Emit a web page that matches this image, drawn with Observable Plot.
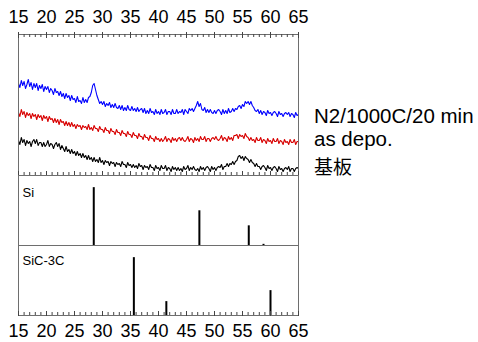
<!DOCTYPE html>
<html><head><meta charset="utf-8">
<script src="https://cdn.jsdelivr.net/npm/d3@7"></script>
<script src="https://cdn.jsdelivr.net/npm/@observablehq/plot@0.6"></script>
<style>
body{margin:0;background:#fff;}
#wrap{position:relative;width:478px;height:342px;overflow:hidden;font-family:"Liberation Sans",Arial,sans-serif;color:#000;}
#wrap svg{position:absolute;left:0;}
.leg{position:absolute;left:314px;font-size:20.5px;line-height:1;white-space:nowrap;color:#000;}
.cjk{font-family:"Noto Sans CJK JP",sans-serif;font-size:19px;}
</style></head><body>
<div id="wrap"></div>
<script>
// 2θ grid of the measured traces: start 15°, step 0.25°
const angleStart = 15, angleStep = 0.25;
const blueTrace = [
92,88,95,90, 94,87,91,96, 89,93,86,92, 88,92,85,90, 87,91,84,89,
86,89,83,87, 85,81,87,83, 84,80,84,79, 82,77,82,78, 80,75,80,76,
77,73,79,74, 75,72,78,73, 76,73,78,79, 83,90,92,86, 80,76,72,74,
71,74,69,72, 70,73,68,71, 68,72,68,67, 70,66,70,65, 68,65,70,66,
65,69,65,67, 64,68,64,66, 67,63,67,62, 65,62,67,63, 64,61,66,62,
64,61,66,62, 63,66,61,64, 64,61,66,62, 62,66,62,64, 63,66,61,66,
64,62,67,65, 67,64,67,70, 74,69,72,66, 65,68,63,66, 63,66,63,62,
65,62,65,66, 64,61,66,62, 65,62,67,63, 64,67,64,67, 66,69,70,67,
71,69,74,72, 74,71,74,70, 68,65,64,66, 62,65,61,64, 63,60,65,62,
63,60,63,64, 62,59,64,61, 62,59,62,63, 61,63,59,62, 61,58,63,60,
61];
const redTrace = [
63,59,66,61, 64,58,63,60, 62,57,62,59, 61,56,61,58, 60,55,60,57,
59,54,59,56, 57,53,57,53, 56,51,56,53, 54,50,54,50, 53,49,53,49,
51,47,51,49, 50,46,50,48, 49,46,51,46, 48,45,50,47, 47,44,49,46,
46,43,48,45, 45,42,47,44, 44,41,46,43, 43,40,45,42, 42,39,44,41,
41,38,43,40, 40,37,42,39, 39,36,41,38, 38,35,40,37, 37,34,39,36,
37,34,37,34, 36,39,34,37, 36,33,38,35, 37,34,37,38, 35,38,35,34,
36,39,34,37, 36,33,38,35, 37,34,39,36, 36,39,34,37, 37,34,37,38,
36,39,36,35, 37,40,35,38, 37,34,39,36, 38,35,40,40, 41,37,41,39,
40,37,42,39, 38,35,38,35, 36,33,38,35, 35,38,33,36, 35,32,37,34,
35,32,37,34, 34,37,32,35, 34,31,36,33, 34,31,36,33, 33,36,31,34,
34];
const blackTrace = [
35,31,38,33, 36,30,35,32, 34,29,34,36, 32,36,30,33, 33,29,33,29,
31,35,29,32, 31,27,31,33, 29,32,26,30, 27,24,29,24, 26,22,26,22,
24,20,24,20, 22,18,22,18, 20,16,20,16, 18,14,18,14, 16,13,18,13,
15,11,15,13, 14,10,14,12, 13,9,13,11, 12,9,14,11, 11,8,13,10,
11,8,11,8, 10,7,12,9, 10,6,10,8, 9,6,11,8, 8,5,10,7,
8,5,10,7, 7,10,5,8, 7,4,9,6, 8,5,8,5, 7,4,9,6,
7,10,5,8, 6,9,6,5, 7,4,9,6, 8,5,8,9, 7,4,9,6,
8,5,8,9, 8,11,6,9, 9,12,9,12, 11,14,11,14, 15,19,20,17,
19,15,19,17, 16,13,16,13, 12,9,12,9, 9,6,9,10, 8,5,10,7,
8,5,8,9, 7,4,9,6, 7,4,7,8, 6,9,4,7, 7,4,7,8,
7];
const seriesNames = ["N2/1000C/20 min", "as depo.", "基板"];
const seriesColors = ["#0000ff", "#d80000", "#000000"];
// reference patterns
const siPeaks = [28.44, 47.30, 56.12, 58.75];
const siIntensity = [100, 60, 34, 2];
const sicPeaks = [35.6, 41.4, 60.0];
const sicIntensity = [100, 24, 43];
const xMajor = [15, 20, 25, 30, 35, 40, 45, 50, 55, 60, 65];
const xMinor = d3.range(15, 66, 1);

const rows = [];
[blueTrace, redTrace, blackTrace].forEach((arr, k) =>
  arr.forEach((v, i) => rows.push({angle: angleStart + i * angleStep, intensity: v, series: seriesNames[k]})));
const siRows = siPeaks.map((p, i) => ({angle: p, intensity: siIntensity[i]}));
const sicRows = sicPeaks.map((p, i) => ({angle: p, intensity: sicIntensity[i]}));

const W = 478, mL = 18, mR = 180;
const font = '"Liberation Sans", Arial, sans-serif';
const common = {
  width: W, marginLeft: mL, marginRight: mR,
  x: {domain: [15, 65], axis: null},
  style: {background: "transparent", overflow: "visible", fontFamily: font, color: "#000"}
};
const frameColor = "#6e6e6e", tickColor = "#444";
function topTicks(ph) {
  return [
    Plot.tickX(xMinor, {x: d => d, insetBottom: ph - 3, stroke: tickColor}),
    Plot.tickX(xMajor, {x: d => d, insetTop: -2, insetBottom: ph - 4, stroke: tickColor})
  ];
}
function bottomTicks(ph) {
  return [
    Plot.tickX(xMinor, {x: d => d, insetTop: ph - 3, stroke: tickColor}),
    Plot.tickX(xMajor, {x: d => d, insetTop: ph - 4, insetBottom: -1, stroke: tickColor})
  ];
}
const wrap = document.getElementById("wrap");

// top panel: measured traces
const h1 = 176, mt1 = 34, mb1 = 1, ph1 = h1 - mt1 - mb1;
const p1 = Plot.plot({
  ...common, height: h1, marginTop: mt1, marginBottom: mb1,
  y: {domain: [0, 141], axis: null},
  color: {domain: seriesNames, range: seriesColors},
  marks: [
    Plot.line(rows, {x: "angle", y: "intensity", z: "series", stroke: "series", strokeWidth: 1.1}),
    Plot.frame({stroke: frameColor}),
    ...topTicks(ph1),
    ...bottomTicks(ph1),
    Plot.axisX(xMajor, {anchor: "top", label: null, tickSize: 0, tickPadding: 12, fontSize: 18, tickFormat: d => String(d)})
  ]
});
p1.style.top = "0px";
wrap.appendChild(p1);

// Si reference
const h2 = 72;
const p2 = Plot.plot({
  ...common, height: h2, marginTop: 1, marginBottom: 1,
  y: {domain: [0, 121], axis: null},
  marks: [
    Plot.ruleX(siRows, {x: "angle", y1: 0, y2: "intensity", stroke: "#000", strokeWidth: 2}),
    Plot.frame({stroke: frameColor}),
    Plot.text(["Si"], {frameAnchor: "top-left", dx: 4, dy: 12, lineAnchor: "top", textAnchor: "start", fontSize: 13, fill: "#000"})
  ]
});
p2.style.top = "174px";
wrap.appendChild(p2);

// SiC-3C reference
const h3 = 98, mb3 = 27, ph3 = h3 - 1 - mb3;
const p3 = Plot.plot({
  ...common, height: h3, marginTop: 1, marginBottom: mb3,
  y: {domain: [0, 121], axis: null},
  marks: [
    Plot.ruleX(sicRows, {x: "angle", y1: 0, y2: "intensity", stroke: "#000", strokeWidth: 2}),
    Plot.frame({stroke: frameColor}),
    ...bottomTicks(ph3),
    Plot.text(["SiC-3C"], {frameAnchor: "top-left", dx: 4, dy: 10, lineAnchor: "top", textAnchor: "start", fontSize: 13, fill: "#000"}),
    Plot.axisX(xMajor, {anchor: "bottom", label: null, tickSize: 0, tickPadding: 9, fontSize: 18, tickFormat: d => String(d)})
  ]
});
p3.style.top = "244px";
wrap.appendChild(p3);

// legend labels
const legTops = [106, 129, 156];
seriesNames.forEach((name, i) => {
  const d = document.createElement("div");
  d.className = "leg" + (i === 2 ? " cjk" : "");
  d.style.top = legTops[i] + "px";
  d.textContent = name;
  wrap.appendChild(d);
});
</script>
</body></html>
